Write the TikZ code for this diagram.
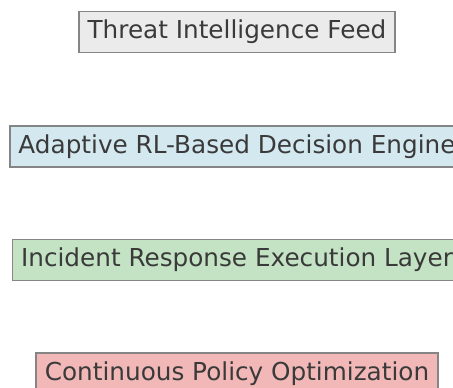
\documentclass[tikz,border=0pt]{standalone}
\usepackage{fontspec}
\setmainfont{DejaVu Sans}
\usepackage{xcolor}

\definecolor{feedgray}{HTML}{EBEBEB}
\definecolor{engineblue}{HTML}{D3E8EF}
\definecolor{layergreen}{HTML}{C4E3C4}
\definecolor{policyred}{HTML}{F2B8B8}
\definecolor{edgegray}{HTML}{858585}
\definecolor{textgray}{HTML}{3A3A3A}

\begin{document}
\begin{tikzpicture}[x=1pt,y=-1pt,
  layerbox/.style={draw=edgegray,line width=1.8pt,inner xsep=8.5pt,minimum height=41pt,
    text=textgray,font=\fontsize{24.7}{29}\selectfont}]
\useasboundingbox (0,0) rectangle (453,388);
\clip (0,0) rectangle (453,388);
\node[layerbox,fill=feedgray] (feed) at (237,32) {Threat Intelligence Feed};
\node[layerbox,fill=engineblue] (engine) at (237,146.5) {Adaptive RL-Based Decision Engine};
\node[layerbox,fill=layergreen] (response) at (237,260) {Incident Response Execution Layer};
\node[layerbox,fill=policyred] (policy) at (237,373.5) {Continuous Policy Optimization};
\end{tikzpicture}
\end{document}
